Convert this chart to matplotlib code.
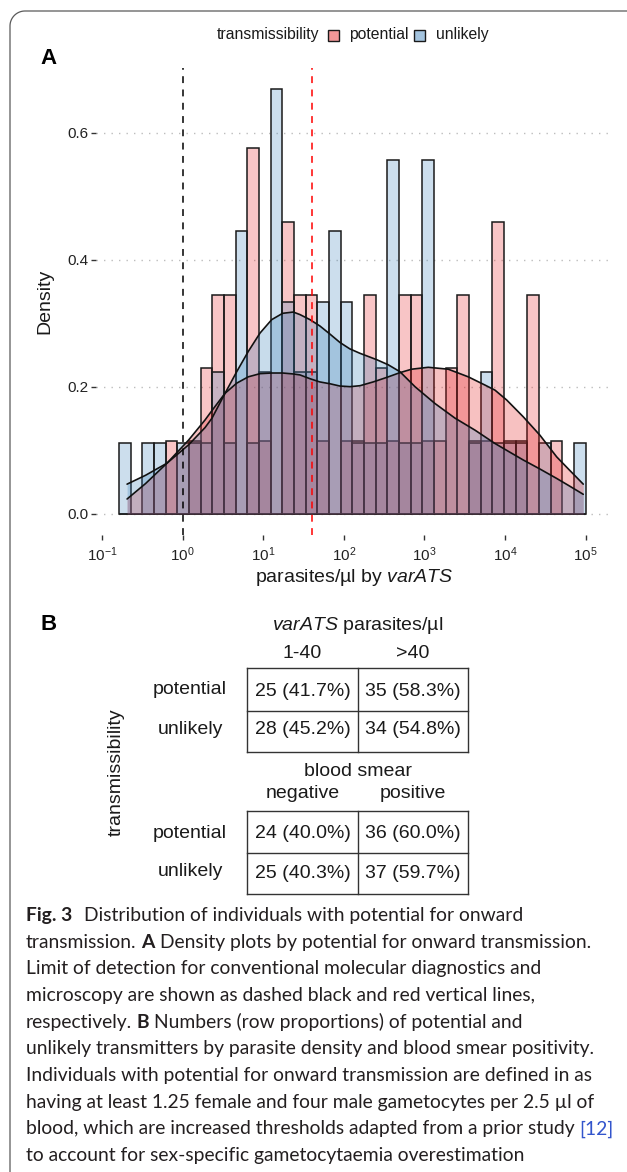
import numpy as np
import matplotlib
matplotlib.use("Agg")
import matplotlib.pyplot as plt
from matplotlib.patches import Rectangle
from matplotlib.lines import Line2D
from matplotlib.ticker import NullLocator

W, H = 627, 1172
plt.rcParams['font.family'] = ['Liberation Sans', 'DejaVu Sans']
plt.rcParams['mathtext.fontset'] = 'custom'
plt.rcParams['mathtext.rm'] = 'Liberation Sans'
plt.rcParams['mathtext.it'] = 'Liberation Sans:italic'
plt.rcParams['mathtext.bf'] = 'Liberation Sans:bold'

# ---------------- data ----------------
group_labels = ["potential", "unlikely"]
legend_title = "transmissibility"
bin_lo_log10 = -0.79          # left edge of first bin (log10 parasites/ul)
bin_width_log10 = 0.14475     # bin width (log10 units), 40 bins
potential_counts = [0, 0, 0, 0, 1, 0, 1, 2, 3, 3, 0, 5, 1, 0, 4, 3, 3, 1, 0, 1,
                    1, 3, 2, 1, 3, 3, 1, 1, 2, 3, 1, 1, 4, 1, 1, 3, 0, 1, 0, 0]
unlikely_counts = [1, 0, 1, 1, 0, 1, 1, 1, 2, 1, 4, 1, 2, 6, 3, 2, 2, 3, 4, 3,
                   1, 1, 1, 5, 1, 1, 5, 0, 0, 0, 1, 2, 1, 1, 1, 0, 1, 0, 0, 1]

# density curves (x in log10 parasites/ul)
dens_potential_x = [-0.69, -0.46, -0.195, 0.074, 0.277, 0.364, 0.525, 0.67, 0.814, 0.96,
                    1.104, 1.24, 1.372, 1.455, 1.58, 1.70, 1.83, 1.95, 2.076, 2.20,
                    2.365, 2.53, 2.696, 2.841, 3.047, 3.295, 3.543, 3.751, 3.875, 4.02,
                    4.226, 4.433, 4.64, 4.80, 4.97]
dens_potential_y = [0.0236, 0.048, 0.080, 0.1165, 0.148, 0.163, 0.190, 0.206, 0.216, 0.221,
                    0.222, 0.222, 0.2205, 0.219, 0.213, 0.208, 0.205, 0.2015, 0.2005, 0.202,
                    0.208, 0.215, 0.2226, 0.228, 0.231, 0.228, 0.216, 0.203, 0.195, 0.1795,
                    0.153, 0.124, 0.090, 0.069, 0.047]
dens_unlikely_x = [-0.69, -0.46, -0.195, 0.074, 0.277, 0.364, 0.525, 0.67, 0.814, 0.96,
                   1.104, 1.24, 1.372, 1.455, 1.58, 1.703, 1.83, 1.952, 2.074, 2.20,
                   2.407, 2.55, 2.696, 2.882, 3.13, 3.378, 3.627, 3.875, 4.05, 4.226,
                   4.43, 4.64, 4.80, 4.97]
dens_unlikely_y = [0.047, 0.061, 0.080, 0.109, 0.136, 0.151, 0.190, 0.224, 0.256, 0.285,
                   0.306, 0.316, 0.318, 0.314, 0.306, 0.296, 0.283, 0.270, 0.260, 0.253,
                   0.243, 0.235, 0.224, 0.2005, 0.174, 0.151, 0.132, 0.111, 0.098, 0.085,
                   0.071, 0.056, 0.044, 0.031]

lod_molecular = 1
lod_microscopy = 40
xtick_exponents = [-1, 0, 1, 2, 3, 4, 5]
yticks = [0.0, 0.2, 0.4, 0.6]

varats_title = "parasites/µl"
varats_cols = ["1-40", ">40"]
varats_counts = {"potential": [25, 35], "unlikely": [28, 34]}
smear_title = "blood smear"
smear_cols = ["negative", "positive"]
smear_counts = {"potential": [24, 36], "unlikely": [25, 37]}

caption_lines = [
    [("Fig. 3", "b"), ("GAP", 12), ("Distribution of individuals with potential for onward", "n")],
    [("transmission.", "n"), ("SP", 1), ("A", "b"), ("SP", 1), ("Density plots by potential for onward transmission.", "n")],
    [("Limit of detection for conventional molecular diagnostics and", "n")],
    [("microscopy are shown as dashed black and red vertical lines,", "n")],
    [("respectively.", "n"), ("SP", 1), ("B", "b"), ("SP", 1), ("Numbers (row proportions) of potential and", "n")],
    [("unlikely transmitters by parasite density and blood smear positivity.", "n")],
    [("Individuals with potential for onward transmission are defined in as", "n")],
    [("having at least 1.25 female and four male gametocytes per 2.5 µl of", "n")],
    [("blood, which are increased thresholds adapted from a prior study", "n"), ("SP", 1), ("[12]", "link")],
    [("to account for sex-specific gametocytaemia overestimation", "n")],
]

# ---------------- styling ----------------
RED = (228 / 255, 26 / 255, 28 / 255)
BLUE = (55 / 255, 126 / 255, 184 / 255)
TXT = '#1a1a1a'

fig = plt.figure(figsize=(W / 100, H / 100), dpi=100)


def fx(x):
    return x / W


def fy(y):
    return 1 - y / H


# outer card border: left edge, rounded top-left corner, top edge to the right border
r = 15.0
bx, by = 10.0, 11.0
ang = np.linspace(np.pi, np.pi / 2, 20)
arc_x = bx + r + r * np.cos(ang)
arc_y = by + r - r * np.sin(ang)
border_x = np.concatenate([[bx], arc_x, [W + 5]])
border_y = np.concatenate([[H + 5], arc_y, [by]])
fig.add_artist(Line2D(fx(border_x), fy(border_y), transform=fig.transFigure,
                      color='#5a5a5a', lw=0.9))

# ---------------- panel A ----------------
left_px, right_px, top_px, bot_px = 95.7, 609.0, 68.2, 535.2
ax = fig.add_axes([fx(left_px), fy(bot_px), (right_px - left_px) / W, (bot_px - top_px) / H])
ax.set_xscale('log')

edges = bin_lo_log10 + bin_width_log10 * np.arange(len(potential_counts) + 1)
lefts = 10.0 ** edges[:-1]
widths = 10.0 ** edges[1:] - lefts
for counts, col in ((potential_counts, RED), (unlikely_counts, BLUE)):
    c = np.array(counts, dtype=float)
    dens = c / (c.sum() * bin_width_log10)
    ax.bar(lefts, dens, width=widths, align='edge', facecolor=(*col, 0.25),
           edgecolor='#1a1a1a', linewidth=1.1, zorder=2)

for xs, ys, col in ((dens_potential_x, dens_potential_y, RED),
                    (dens_unlikely_x, dens_unlikely_y, BLUE)):
    xv = 10.0 ** np.array(xs)
    ax.fill_between(xv, 0, ys, color=(*col, 0.27), linewidth=0, zorder=3)
    ax.plot(xv, ys, color='#111111', lw=1.2, zorder=4, solid_capstyle='round',
            solid_joinstyle='round')

ax.axvline(lod_molecular, color='black', lw=1.1, ls=(0, (4.5, 4.2)), zorder=5)
ax.axvline(lod_microscopy, color='#ff0000', lw=1.1, ls=(0, (4.5, 4.2)), zorder=5)

ax.set_xlim(10 ** -1.0795, 10 ** 5.2895)
ax.set_ylim(-0.0334, 0.702)
ax.set_axisbelow(True)
ax.yaxis.grid(True, color='#bdbdbd', lw=1.0, ls=(0, (1, 4.4)))
ax.xaxis.grid(False)
for s in ax.spines.values():
    s.set_visible(False)
ax.set_yticks(yticks)
ax.set_yticklabels([f'{v:.1f}' for v in yticks])
ax.set_xticks([10.0 ** e for e in xtick_exponents])
ax.set_xticklabels([r'$\mathdefault{10^{%d}}$' % e for e in xtick_exponents])
ax.xaxis.set_minor_locator(NullLocator())
ax.tick_params(axis='both', length=3.5, width=1.0, color='#333333', labelsize=11,
               labelcolor='#222222')
ax.tick_params(axis='y', pad=2)
ax.tick_params(axis='x', pad=4)

fig.text(fx(45), fy(301.7), 'Density', rotation=90, ha='center', va='center',
         fontsize=14, color=TXT)
fig.text(fx(354), fy(577), r'parasites/µl by $\mathit{varATS}$', ha='center', va='center',
         fontsize=14, color=TXT)
fig.text(fx(40), fy(59), 'A', fontsize=16, fontweight='bold', ha='left', va='center', color='black')

# legend
fig.text(fx(319), fy(35), legend_title, ha='right', va='center', fontsize=11.3, color=TXT)
key_pos = [(328, 349), (414, 436)]
for (kx, tx), lab, col in zip(key_pos, group_labels, (RED, BLUE)):
    fig.add_artist(Rectangle((fx(kx), fy(40.5)), 11 / W, 11 / H, transform=fig.transFigure,
                             facecolor=(*col, 0.45), edgecolor='#1a1a1a', linewidth=1.0))
    fig.text(fx(tx), fy(35), lab, ha='left', va='center', fontsize=11.3, color=TXT)

# ---------------- panel B ----------------
fig.text(fx(40), fy(624), 'B', fontsize=16, fontweight='bold', ha='left', va='center', color='black')
fs_b = 14
col_cx = [302.5, 413]
tbl_x0, tbl_xm, tbl_x1 = 247, 358, 468


def line(x0, y0, x1, y1):
    fig.add_artist(Line2D([fx(x0), fx(x1)], [fy(y0), fy(y1)], transform=fig.transFigure,
                          color='#333333', lw=1.0))


def table(counts, cols, title, title_y, cols_y, top, mid, bot, rows_y):
    fig.text(fx(358), fy(title_y), title, ha='center', va='center', fontsize=fs_b, color=TXT)
    for cx, c in zip(col_cx, cols):
        fig.text(fx(cx), fy(cols_y), c, ha='center', va='center', fontsize=fs_b, color=TXT)
    line(tbl_x0, top, tbl_x1, top)
    line(tbl_x0, mid, tbl_x1, mid)
    line(tbl_x0, bot, tbl_x1, bot)
    for xx in (tbl_x0, tbl_xm, tbl_x1):
        line(xx, top, xx, bot)
    for ry, g in zip(rows_y, group_labels):
        fig.text(fx(190), fy(ry), g, ha='center', va='center', fontsize=fs_b, color=TXT)
        vals = counts[g]
        tot = sum(vals)
        for cx, v in zip(col_cx, vals):
            fig.text(fx(cx), fy(ry + 1), f'{v} ({100 * v / tot:.1f}%)', ha='center',
                     va='center', fontsize=fs_b, color=TXT)


table(varats_counts, varats_cols, r'$\mathit{varATS}$ ' + varats_title, 626, 653,
      668, 711, 752, [690, 729])
table(smear_counts, smear_cols, smear_title, 771, 793, 811, 853, 894, [833, 872])
fig.text(fx(116), fy(772), 'transmissibility', rotation=90, ha='center', va='center',
         fontsize=fs_b, color=TXT)

# ---------------- caption ----------------
renderer = fig.canvas.get_renderer()
cap_font = 'Lato'


def text_w(s, size, weight='normal'):
    t = fig.text(0, 0, s, fontsize=size, family=[cap_font, 'DejaVu Sans'], fontweight=weight)
    w = t.get_window_extent(renderer).width
    t.remove()
    return w


ref_size = 14.0
w_ref = text_w(caption_lines[6][0][0], ref_size)
cap_size = ref_size * (595 - 26) / w_ref
space_w = text_w('x x', cap_size) - text_w('xx', cap_size)

y_base0 = 915 + 6
for i, runs in enumerate(caption_lines):
    x = 26.0
    yb = y_base0 + i * 26.67
    for s, st in runs:
        if s == "GAP":
            x += st
            continue
        if s == "SP":
            x += space_w
            continue
        weight = 'bold' if st == 'b' else 'normal'
        color = '#3355cc' if st == 'link' else '#231f20'
        t = fig.text(fx(x), fy(yb), s, fontsize=cap_size, family=[cap_font, 'DejaVu Sans'],
                     fontweight=weight, color=color, ha='left', va='baseline')
        x += t.get_window_extent(renderer).width

fig.savefig('out.png', dpi=100)
